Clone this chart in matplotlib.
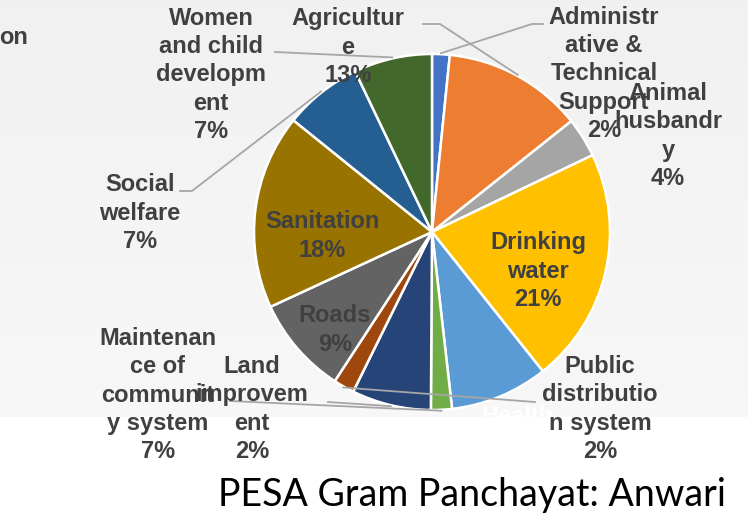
import matplotlib.pyplot as plt
import numpy as np

# slice data, clockwise from 12 o'clock
names = ['Administr\native &\nTechnical\nSupport', 'Agricultur\ne', 'Animal\nhusbandr\ny',
         'Drinking\nwater', 'Health', 'Land\nimprovem\nent', 'Maintenan\nce of\ncommunit\ny system',
         'Public\ndistributio\nn system', 'Roads', 'Sanitation', 'Social\nwelfare',
         'Women\nand child\ndevelopm\nent']
values = [1.6, 12.7, 3.6, 21.4, 8.9, 1.9, 7.2, 1.9, 8.9, 17.7, 7.1, 7.1]
colors = ['#4472C4', '#ED7D31', '#A5A5A5', '#FFC000', '#5B9BD5', '#70AD47',
          '#264478', '#9E480E', '#636363', '#997300', '#255E91', '#43682B']

# label centres in pixels (layout)
label_pos = [(604, 74), (348, 47), (668, 136), (538, 271), (518, 431), (252, 409),
             (158, 395), (600, 409), (335, 330), (322, 236), (140, 213), (211, 75)]
label_color = ['#404040'] * 12
label_color[4] = 'white'

# leader lines: slice index -> label anchor points
leaders = [(0, [(543, 24), (532, 24)]),
           (1, [(423, 24), (440, 24)]),
           (11, [(275, 52)]),
           (10, [(180, 191), (192, 191)]),
           (7, [(535, 402)]),
           (5, [(230, 401)]),
           (6, [(328, 402)])]

W, H = 748, 527
cx, cy, r = 432, 232, 178

fig = plt.figure(figsize=(W / 100, H / 100), dpi=100)
fig.patch.set_facecolor('white')
ax = fig.add_axes([0, 0, 1, 1])

# chart area background
grad = np.linspace(0.945, 0.97, 100).reshape(-1, 1)
ax.imshow(np.dstack([grad, grad, grad]), extent=(0, W, 417, 0), aspect='auto', zorder=0)

wedges, _ = ax.pie(values, colors=colors, startangle=270, counterclock=True,
                   center=(cx, cy), radius=r,
                   wedgeprops=dict(edgecolor='white', linewidth=1.8))
for w in wedges:
    w.set_zorder(2)

ax.set_xlim(0, W)
ax.set_ylim(H, 0)
ax.set_aspect('auto')
ax.axis('off')

total = sum(values)
for i, (name, v) in enumerate(zip(names, values)):
    x, y = label_pos[i]
    ax.text(x, y, f'{name}\n{v / total * 100:.0f}%', ha='center', va='center',
            fontsize=17, fontweight='bold', family='Liberation Sans',
            color=label_color[i], linespacing=1.28, zorder=5)

for i, pts in leaders:
    w = wedges[i]
    mid = np.deg2rad((w.theta1 + w.theta2) / 2)
    end = (cx + (r + 1) * np.cos(mid), cy + (r + 1) * np.sin(mid))
    xs = [p[0] for p in pts] + [end[0]]
    ys = [p[1] for p in pts] + [end[1]]
    ax.plot(xs, ys, color='#A6A6A6', lw=1.3, zorder=4)

# clipped label at the left edge
ax.text(-1, 38, 'on', ha='left', va='center', fontsize=17, fontweight='bold',
        family='Liberation Sans', color='#404040')

ax.text(472, 495, 'PESA Gram Panchayat: Anwari', ha='center', va='center',
        fontsize=27, family='Lato', color='black')

fig.savefig('out.png', dpi=100)
